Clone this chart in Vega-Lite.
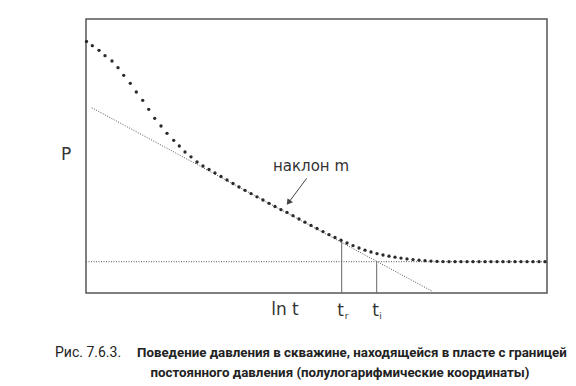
{
  "$schema": "https://vega.github.io/schema/vega-lite/v6.json",
  "width": 461,
  "height": 274,
  "autosize": "none",
  "padding": {"left": 86, "top": 19, "right": 29, "bottom": 93},
  "background": "white",
  "config": {"view": {"stroke": "#555", "strokeWidth": 1.5}},
  "datasets": {
    "curve": [
      {"x": 0.5, "y": 251.5},
      {"x": 6.3, "y": 247.3}, {"x": 13, "y": 242.7}, {"x": 19, "y": 237.3}, {"x": 26, "y": 232},
      {"x": 32, "y": 225.3}, {"x": 37.7, "y": 217.7}, {"x": 44.3, "y": 209.7}, {"x": 50.3, "y": 201},
      {"x": 56.7, "y": 192.7}, {"x": 62.7, "y": 183.7}, {"x": 68.7, "y": 174.7}, {"x": 75, "y": 167},
      {"x": 81, "y": 159.7}, {"x": 87.7, "y": 152.7}, {"x": 93.3, "y": 147},
      {"x": 99, "y": 141}, {"x": 105, "y": 136.2}, {"x": 111, "y": 131}, {"x": 117, "y": 127},
      {"x": 123, "y": 123.5}, {"x": 129, "y": 120}, {"x": 135, "y": 116.5}, {"x": 141, "y": 113},
      {"x": 147, "y": 109.5}, {"x": 153, "y": 106}, {"x": 159, "y": 102.7}, {"x": 165, "y": 99.4},
      {"x": 171, "y": 96.2}, {"x": 177, "y": 93}, {"x": 183, "y": 89.7}, {"x": 189, "y": 86.5},
      {"x": 195, "y": 83.3}, {"x": 201, "y": 80.6}, {"x": 207, "y": 77.3}, {"x": 213, "y": 74},
      {"x": 219, "y": 70.8}, {"x": 225, "y": 67.6}, {"x": 231, "y": 64.5}, {"x": 237, "y": 61.4},
      {"x": 243, "y": 58.4}, {"x": 249, "y": 55.5}, {"x": 255, "y": 52.8}, {"x": 261, "y": 50},
      {"x": 267, "y": 47.4}, {"x": 273, "y": 45}, {"x": 279, "y": 42.8}, {"x": 285, "y": 41},
      {"x": 291, "y": 39.4}, {"x": 297, "y": 38}, {"x": 303, "y": 36.8}, {"x": 309, "y": 35.8},
      {"x": 315, "y": 34.9}, {"x": 321, "y": 34.1}, {"x": 327, "y": 33.4}, {"x": 333, "y": 32.8},
      {"x": 339, "y": 32.3}, {"x": 345, "y": 31.9}, {"x": 351, "y": 31.6}, {"x": 357, "y": 31.4},
      {"x": 363, "y": 31.3}, {"x": 369, "y": 31.3}, {"x": 375, "y": 31.3}, {"x": 381, "y": 31.3},
      {"x": 387, "y": 31.3}, {"x": 393, "y": 31.3}, {"x": 399, "y": 31.3}, {"x": 405, "y": 31.3},
      {"x": 411, "y": 31.3}, {"x": 417, "y": 31.3}, {"x": 423, "y": 31.3}, {"x": 429, "y": 31.3},
      {"x": 435, "y": 31.3}, {"x": 441, "y": 31.3}, {"x": 447, "y": 31.3}, {"x": 453, "y": 31.3},
      {"x": 459, "y": 31.3}
    ]
  },
  "encoding": {
    "x": {"type": "quantitative", "scale": {"domain": [0, 461], "nice": false, "zero": false}, "axis": null},
    "y": {"type": "quantitative", "scale": {"domain": [0, 274], "nice": false, "zero": false}, "axis": null}
  },
  "layer": [
    {
      "data": {"values": [
        {"x": 5.7, "y": 185.3, "x2": 345.7, "y2": 2},
        {"x": 0, "y": 31.3, "x2": 461, "y2": 31.3}
      ]},
      "mark": {"type": "rule", "stroke": "#555", "strokeWidth": 1, "strokeDash": [1, 1.5]},
      "encoding": {
        "x": {"field": "x", "type": "quantitative"},
        "y": {"field": "y", "type": "quantitative"},
        "x2": {"field": "x2"},
        "y2": {"field": "y2"}
      }
    },
    {
      "data": {"values": [
        {"x": 255.7, "y": 53, "y2": 0},
        {"x": 290.7, "y": 31.3, "y2": 0}
      ]},
      "mark": {"type": "rule", "stroke": "#666", "strokeWidth": 1},
      "encoding": {
        "x": {"field": "x", "type": "quantitative"},
        "y": {"field": "y", "type": "quantitative"},
        "y2": {"field": "y2"}
      }
    },
    {
      "data": {"name": "curve"},
      "mark": {"type": "point", "filled": true, "color": "#2a2a2a", "size": 11, "opacity": 1, "clip": false},
      "encoding": {
        "x": {"field": "x", "type": "quantitative"},
        "y": {"field": "y", "type": "quantitative"}
      }
    },
    {
      "data": {"values": [{"x": 220.7, "y": 114.7, "x2": 203, "y2": 91}]},
      "mark": {"type": "rule", "stroke": "#444", "strokeWidth": 1},
      "encoding": {
        "x": {"field": "x", "type": "quantitative"},
        "y": {"field": "y", "type": "quantitative"},
        "x2": {"field": "x2"},
        "y2": {"field": "y2"}
      }
    },
    {
      "data": {"values": [{"x": 202.5, "y": 90.5}]},
      "mark": {"type": "point", "shape": "triangle-up", "filled": true, "color": "#444", "size": 45, "angle": 217, "opacity": 1},
      "encoding": {
        "x": {"field": "x", "type": "quantitative"},
        "y": {"field": "y", "type": "quantitative"}
      }
    },
    {
      "data": {"values": [{"x": 225, "y": 127, "label": "наклон m"}]},
      "mark": {"type": "text", "font": "DejaVu Sans", "fontSize": 15, "color": "#333", "align": "center", "baseline": "middle"},
      "encoding": {
        "x": {"field": "x", "type": "quantitative"},
        "y": {"field": "y", "type": "quantitative"},
        "text": {"field": "label"}
      }
    },
    {
      "data": {"values": [{"x": -20, "y": 138, "label": "P"}, {"x": 199, "y": -17, "label": "ln t"}, {"x": 254.5, "y": -18, "label": "t"}, {"x": 289.5, "y": -18, "label": "t"}]},
      "mark": {"type": "text", "font": "DejaVu Sans", "fontSize": 17, "color": "#333", "align": "center", "baseline": "middle"},
      "encoding": {
        "x": {"field": "x", "type": "quantitative"},
        "y": {"field": "y", "type": "quantitative"},
        "text": {"field": "label"}
      }
    },
    {
      "data": {"values": [{"x": 260.5, "y": -23, "label": "r"}, {"x": 294.5, "y": -23, "label": "i"}]},
      "mark": {"type": "text", "font": "DejaVu Sans", "fontSize": 9, "color": "#333", "align": "center", "baseline": "middle"},
      "encoding": {
        "x": {"field": "x", "type": "quantitative"},
        "y": {"field": "y", "type": "quantitative"},
        "text": {"field": "label"}
      }
    },
    {
      "data": {"values": [{"x": -31, "y": -60, "label": "Рис. 7.6.3."}]},
      "mark": {"type": "text", "font": "Roboto", "fontSize": 14, "color": "#222", "align": "left", "baseline": "middle"},
      "encoding": {
        "x": {"field": "x", "type": "quantitative"},
        "y": {"field": "y", "type": "quantitative"},
        "text": {"field": "label"}
      }
    },
    {
      "data": {"values": [
        {"x": 51, "y": -60, "label": "Поведение давления в скважине, находящейся в пласте с границей"}
      ]},
      "mark": {"type": "text", "font": "Roboto", "fontSize": 13.3, "fontWeight": "bold", "color": "#222", "align": "left", "baseline": "middle"},
      "encoding": {
        "x": {"field": "x", "type": "quantitative"},
        "y": {"field": "y", "type": "quantitative"},
        "text": {"field": "label"}
      }
    },
    {
      "data": {"values": [
        {"x": 254, "y": -80, "label": "постоянного давления (полулогарифмические координаты)"}
      ]},
      "mark": {"type": "text", "font": "Roboto", "fontSize": 13.3, "fontWeight": "bold", "color": "#222", "align": "center", "baseline": "middle"},
      "encoding": {
        "x": {"field": "x", "type": "quantitative"},
        "y": {"field": "y", "type": "quantitative"},
        "text": {"field": "label"}
      }
    }
  ]
}
